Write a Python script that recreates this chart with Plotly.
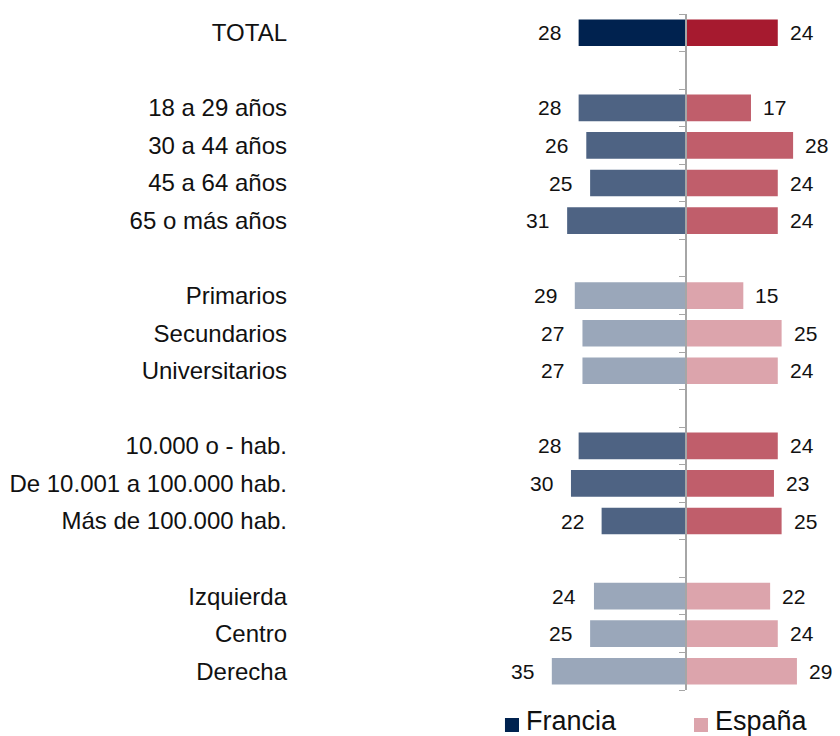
import plotly.graph_objects as go

# Datos (cada fila vacía separa grupos)
categorias = ["TOTAL", "",
              "18 a 29 años", "30 a 44 años", "45 a 64 años", "65 o más años", "",
              "Primarios", "Secundarios", "Universitarios", "",
              "10.000 o - hab.", "De 10.001 a 100.000 hab.", "Más de 100.000 hab.", "",
              "Izquierda", "Centro", "Derecha"]
francia = [28, None, 28, 26, 25, 31, None, 29, 27, 27, None, 28, 30, 22, None, 24, 25, 35]
espana = [24, None, 17, 28, 24, 24, None, 15, 25, 24, None, 24, 23, 25, None, 22, 24, 29]
tono = ["oscuro", None, "medio", "medio", "medio", "medio", None,
        "claro", "claro", "claro", None, "medio", "medio", "medio", None,
        "claro", "claro", "claro"]
series = ["Francia", "España"]

COLORES_FR = {"oscuro": "#00224F", "medio": "#4E6383", "claro": "#9AA7BA"}
COLORES_ES = {"oscuro": "#A61A2F", "medio": "#C05E6B", "claro": "#DCA4AC"}
FUENTE = "Liberation Sans, Arial, sans-serif"
TEXTO = "#111111"

n = len(categorias)
pos = list(range(n))
X_MIN, X_MAX = -103.1, 39.2

fig = go.Figure()

fig.add_trace(go.Bar(
    y=pos, x=[-v if v is not None else None for v in francia],
    orientation="h", width=0.71, name=series[0],
    marker=dict(color=[COLORES_FR.get(t, "white") for t in tono], line=dict(width=0)),
    showlegend=False, hoverinfo="skip",
))
fig.add_trace(go.Bar(
    y=pos, x=espana,
    orientation="h", width=0.71, name=series[1],
    marker=dict(color=[COLORES_ES.get(t, "white") for t in tono], line=dict(width=0)),
    showlegend=False, hoverinfo="skip",
))
# traza fantasma para activar yaxis2
fig.add_trace(go.Scatter(x=[None], y=[None], yaxis="y2", showlegend=False, hoverinfo="skip"))

# Etiquetas de valor
for i, (f, e) in enumerate(zip(francia, espana)):
    if f is not None:
        fig.add_annotation(x=-f, y=i, text=str(f), showarrow=False, xanchor="right",
                           xshift=-16, font=dict(size=21, color=TEXTO, family=FUENTE))
    if e is not None:
        fig.add_annotation(x=e, y=i, text=str(e), showarrow=False, xanchor="left",
                           xshift=10, font=dict(size=21, color=TEXTO, family=FUENTE))

# Leyenda dibujada a mano, pegada al borde inferior
ley_x = [0.3926, 0.7394]
ley_colores = [COLORES_FR["oscuro"], COLORES_ES["claro"]]
for nombre, x0, col in zip(series, ley_x, ley_colores):
    fig.add_shape(type="rect", xref="paper", yref="paper",
                  x0=x0, x1=x0 + 0.0257, y0=-0.0621, y1=-0.0414,
                  fillcolor=col, line=dict(width=0))
    fig.add_annotation(xref="paper", yref="paper", x=x0 + 0.035, y=-0.0455,
                       text=nombre, showarrow=False, xanchor="left", yanchor="middle",
                       font=dict(size=27, color=TEXTO, family=FUENTE))

fig.update_layout(
    width=840, height=736,
    margin=dict(l=283, r=12, t=6, b=54),
    paper_bgcolor="white", plot_bgcolor="white",
    font=dict(family=FUENTE, color=TEXTO),
    barmode="overlay",
    showlegend=False,
    xaxis=dict(range=[X_MIN, X_MAX], visible=False, fixedrange=True, automargin=False),
    yaxis=dict(
        range=[n - 0.5, -0.5],
        tickvals=[i for i, c in enumerate(categorias) if c],
        ticktext=[c for c in categorias if c],
        tickfont=dict(size=24, color=TEXTO, family=FUENTE),
        showline=False, showgrid=False, zeroline=False, ticks="",
        ticklabelstandoff=3, automargin=False,
    ),
    yaxis2=dict(
        overlaying="y", anchor="free", position=(0 - X_MIN) / (X_MAX - X_MIN),
        range=[n - 0.5, -0.5],
        tickvals=[i - 0.5 for i in range(n + 1)],
        showticklabels=False, ticks="outside", ticklen=6, tickcolor="#a6a6a6",
        showline=True, linecolor="#a6a6a6", linewidth=1.5,
        showgrid=False, zeroline=False, layer="above traces", automargin=False,
    ),
)

fig.write_html("out.html")
